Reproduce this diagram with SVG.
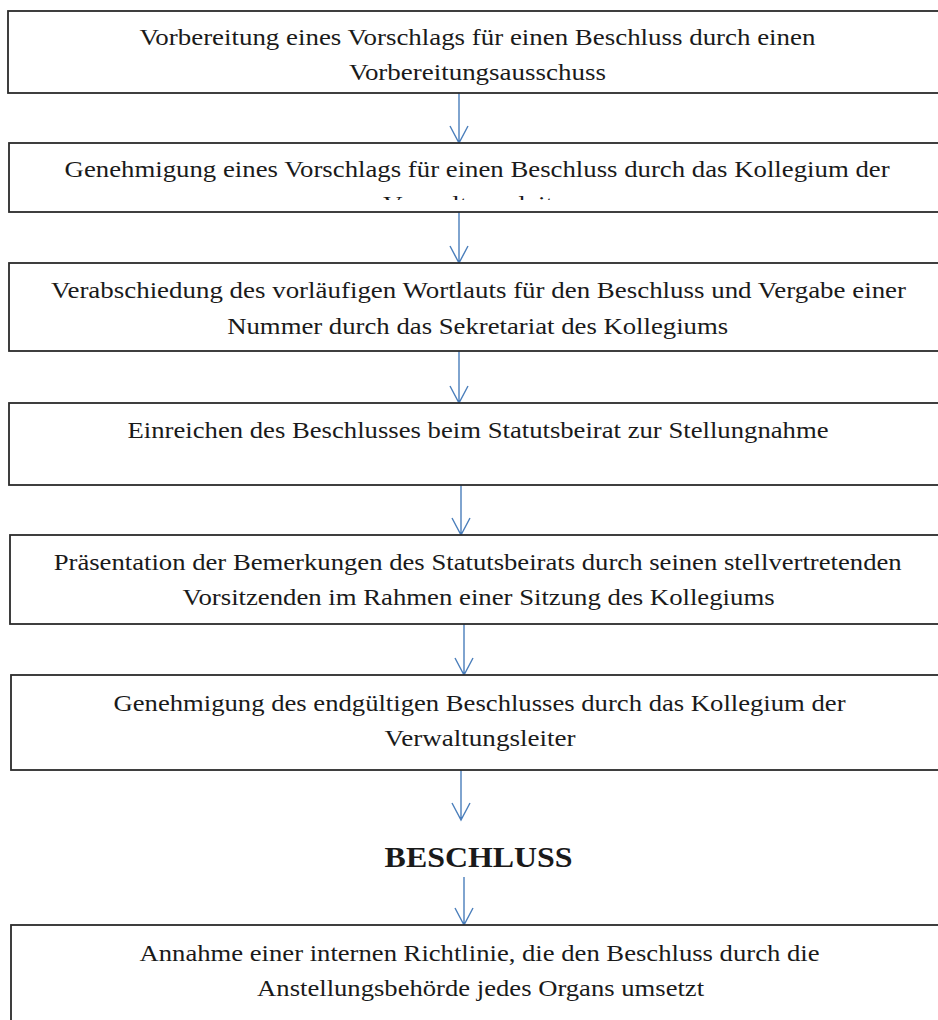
<svg xmlns="http://www.w3.org/2000/svg" width="938" height="1020" viewBox="0 0 938 1020">
<style>
.box{fill:#fff;stroke:#2b2b2b;stroke-width:1.8}
.t{font-family:"Liberation Serif","Times New Roman",serif;font-size:24px;fill:#1a1a1a;text-anchor:middle}
.b{font-family:"Liberation Serif","Times New Roman",serif;font-size:30px;font-weight:bold;fill:#1a1a1a;text-anchor:middle}
.c{fill:none;stroke:#4a7ebb;stroke-width:1.4}
</style>
<defs>
<clipPath id="clip2"><rect x="9" y="143" width="940" height="57"/></clipPath>
</defs>
<rect width="938" height="1020" fill="#fff"/>
<g id="connectors">
<path class="c" d="M459 93V143M450 126L459 143L468 126"/>
<path class="c" d="M459 212V263M450 246L459 263L468 246"/>
<path class="c" d="M459 351V403M450 386L459 403L468 386"/>
<path class="c" d="M461 485V535M452 518L461 535L470 518"/>
<path class="c" d="M464 624V675M455 658L464 675L473 658"/>
<path class="c" d="M461 770V820M452 803L461 820L470 803"/>
<path class="c" d="M464 877V925M455 908L464 925L473 908"/>
</g>
<g id="n1">
<rect class="box" x="8" y="11" width="945" height="82"/>
<text class="t" x="477.4" y="45" textLength="676" lengthAdjust="spacingAndGlyphs">Vorbereitung eines Vorschlags für einen Beschluss durch einen</text>
<text class="t" x="477.4" y="80" textLength="257" lengthAdjust="spacingAndGlyphs">Vorbereitungsausschuss</text>
</g>
<g id="n2">
<rect class="box" x="9" y="143" width="945" height="69"/>
<g clip-path="url(#clip2)">
<text class="t" x="477.1" y="177" textLength="825" lengthAdjust="spacingAndGlyphs">Genehmigung eines Vorschlags für einen Beschluss durch das Kollegium der</text>
<text class="t" x="478.5" y="212" textLength="191" lengthAdjust="spacingAndGlyphs">Verwaltungsleiter</text>
</g>
</g>
<g id="n3">
<rect class="box" x="9" y="263" width="945" height="88"/>
<text class="t" x="478.5" y="298" textLength="855" lengthAdjust="spacingAndGlyphs">Verabschiedung des vorläufigen Wortlauts für den Beschluss und Vergabe einer</text>
<text class="t" x="477.7" y="334" textLength="501" lengthAdjust="spacingAndGlyphs">Nummer durch das Sekretariat des Kollegiums</text>
</g>
<g id="n4">
<rect class="box" x="9" y="403" width="945" height="82"/>
<text class="t" x="478" y="438" textLength="701" lengthAdjust="spacingAndGlyphs">Einreichen des Beschlusses beim Statutsbeirat zur Stellungnahme</text>
</g>
<g id="n5">
<rect class="box" x="10" y="535" width="945" height="89"/>
<text class="t" x="477.7" y="570" textLength="848" lengthAdjust="spacingAndGlyphs">Präsentation der Bemerkungen des Statutsbeirats durch seinen stellvertretenden</text>
<text class="t" x="478.6" y="605" textLength="592" lengthAdjust="spacingAndGlyphs">Vorsitzenden im Rahmen einer Sitzung des Kollegiums</text>
</g>
<g id="n6">
<rect class="box" x="11" y="675" width="945" height="95"/>
<text class="t" x="479.5" y="711" textLength="732" lengthAdjust="spacingAndGlyphs">Genehmigung des endgültigen Beschlusses durch das Kollegium der</text>
<text class="t" x="480.1" y="746" textLength="191" lengthAdjust="spacingAndGlyphs">Verwaltungsleiter</text>
</g>
<g id="n7">
<text class="b" x="478.6" y="867" textLength="188" lengthAdjust="spacingAndGlyphs">BESCHLUSS</text>
</g>
<g id="n8">
<rect class="box" x="11" y="925" width="945" height="110"/>
<text class="t" x="479.5" y="961" textLength="680" lengthAdjust="spacingAndGlyphs">Annahme einer internen Richtlinie, die den Beschluss durch die</text>
<text class="t" x="480.6" y="996" textLength="447" lengthAdjust="spacingAndGlyphs">Anstellungsbehörde jedes Organs umsetzt</text>
</g>
</svg>
